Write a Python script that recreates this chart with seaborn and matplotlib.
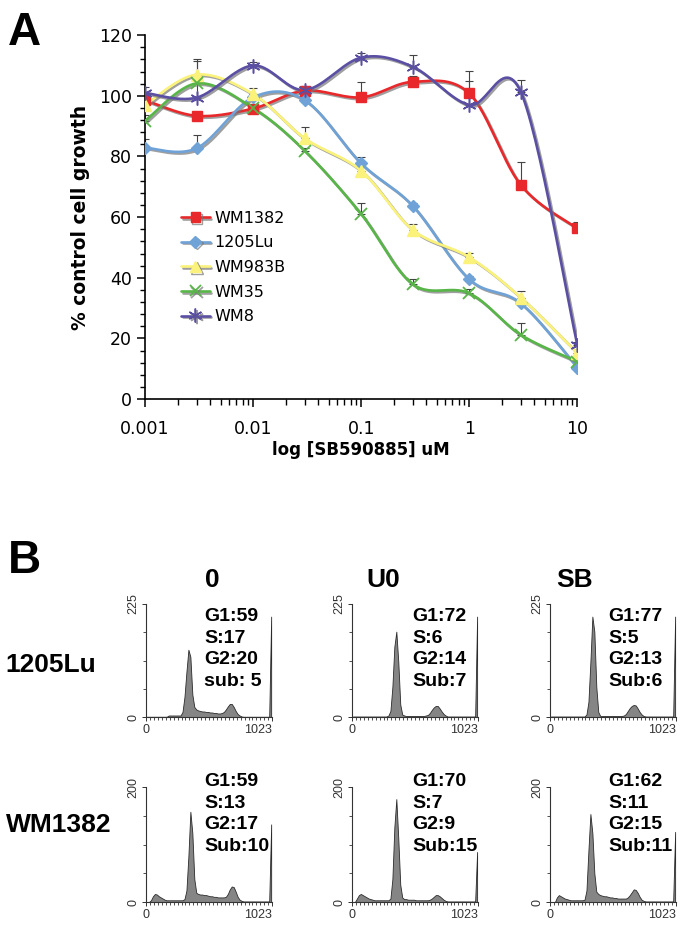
"""Dose response of melanoma lines to SB590885 and cell-cycle profiles."""

import matplotlib.pyplot as plt
import matplotlib.patheffects as pe
import numpy as np
import pandas as pd
import seaborn as sns
from matplotlib.lines import Line2D
from matplotlib.ticker import FixedLocator, LogLocator, MultipleLocator, NullFormatter

# ---- panel A data -------------------------------------------------------
doses = [0.001, 0.003, 0.01, 0.03, 0.1, 0.3, 1, 3, 10]
cell_lines = ["WM1382", "1205Lu", "WM983B", "WM35", "WM8"]

wm1382 = [98.6, 93.4, 95.8, 101.7, 99.5, 104.6, 100.8, 70.6, 56.3]
lu1205 = [82.9, 82.7, 99.5, 98.6, 77.7, 63.7, 39.5, 31.6, 10.4]
wm983b = [97.0, 107.0, 100.6, 86.0, 75.3, 55.8, 46.8, 33.5, 15.2]
wm35 = [91.7, 104.1, 96.0, 81.9, 61.0, 37.9, 34.9, 21.2, 12.4]
wm8 = [101.0, 99.4, 110.0, 101.9, 112.6, 109.6, 97.0, 101.3, 17.9]

wm1382_err = [2.0, 1.0, 1.0, 1.5, 5.0, 2.0, 7.5, 7.5, 2.0]
lu1205_err = [3.0, 4.5, 1.0, 1.0, 2.0, 1.0, 1.0, 1.0, 1.0]
wm983b_err = [2.0, 5.0, 2.0, 3.6, 1.5, 2.0, 1.5, 2.3, 1.0]
wm35_err = [2.0, 1.0, 1.0, 1.0, 3.6, 1.6, 1.3, 3.8, 1.0]
wm8_err = [2.0, 12.0, 1.0, 1.0, 1.5, 4.0, 8.0, 4.0, 1.0]

# ---- panel B data: DNA content histograms, 16-channel bins --------------
conditions = ["0", "U0", "SB"]
hist_lines = ["1205Lu", "WM1382"]
hist_ymax = [225, 200]

lu_ctrl = [0.5] * 11 + [3] * 7 + [10, 40, 90, 134, 120, 45, 20, 15,
           13, 12, 11, 11, 10, 10, 9, 9, 8, 8, 7, 7, 8,
           10, 15, 21, 26, 26, 20, 12, 6, 3, 1] + [0.5] * 14 + [200]
lu_u0 = [1] * 18 + [3, 12, 60, 140, 170, 110, 25, 5,
         3, 2, 2, 2, 2, 2, 2, 2, 2, 2, 2, 3,
         4, 8, 14, 19, 22, 22, 17, 11, 6, 3, 1] + [1] * 14 + [200]
lu_sb = [1] * 18 + [5, 30, 110, 200, 170, 60, 10] + [2] * 12 + [
         3, 6, 12, 18, 22, 24, 23, 17, 10, 5, 2] + [1] * 15 + [200]
wm_ctrl = [0, 0, 3, 10, 14, 13, 10, 8, 6, 4, 3] + [3] * 7 + [
           3, 5, 20, 80, 157, 120, 40, 16,
           14, 13, 13, 12, 12, 11, 10, 10, 9, 9, 8, 8, 8,
           8, 9, 14, 22, 27, 26, 18, 9, 4, 2] + [1] * 14 + [135]
wm_u0 = [0, 0, 6, 12, 14, 12, 10, 8, 6, 5, 4] + [3] * 7 + [
         3, 6, 40, 130, 179, 110, 30, 8,
         5, 5, 4, 4, 4, 4, 3, 3, 3, 3, 3, 3,
         3, 4, 6, 9, 12, 12, 10, 7, 4, 2] + [1] * 15 + [87]
wm_sb = [0, 0, 0, 8, 12, 10, 8, 6, 5, 4] + [3] * 7 + [
         4, 20, 90, 153, 120, 50, 18, 14,
         12, 11, 10, 10, 9, 8, 8, 7, 7, 6, 6, 6, 6,
         6, 8, 12, 17, 22, 21, 16, 9, 4, 2] + [1] * 15 + [122]

phase_text = [
    ["G1:59\nS:17\nG2:20\nsub: 5", "G1:72\nS:6\nG2:14\nSub:7", "G1:77\nS:5\nG2:13\nSub:6"],
    ["G1:59\nS:13\nG2:17\nSub:10", "G1:70\nS:7\nG2:9\nSub:15", "G1:62\nS:11\nG2:15\nSub:11"],
]

series = dict(zip(cell_lines, [wm1382, lu1205, wm983b, wm35, wm8]))
errors = dict(zip(cell_lines, [wm1382_err, lu1205_err, wm983b_err, wm35_err, wm8_err]))
hists = [[lu_ctrl, lu_u0, lu_sb], [wm_ctrl, wm_u0, wm_sb]]

colors = {"WM1382": "#E8282B", "1205Lu": "#6FA2D6", "WM983B": "#FAF27A",
          "WM35": "#58B548", "WM8": "#5A4FA3"}
markers = {"WM1382": ("s", 7, 1.0), "1205Lu": ("D", 6, 1.0), "WM983B": ("^", 8, 1.0),
           "WM35": ("x", 8, 1.3), "WM8": ((6, 2, 0), 10, 1.1)}


def smooth_curve(xs, ys, n=30):
    """Excel-like smoothed line through the points (Bezier in log-x space)."""
    p = np.column_stack([np.log10(xs), np.asarray(ys, float)])
    ext = np.vstack([p[0], p, p[-1]])
    t = np.linspace(0, 1, n)[:, None]
    parts = []
    for i in range(len(p) - 1):
        p0, p1, p2, p3 = ext[i], ext[i + 1], ext[i + 2], ext[i + 3]
        c1 = p1 + (p2 - p0) / 6
        c2 = p2 - (p3 - p1) / 6
        seg = (1 - t) ** 3 * p1 + 3 * (1 - t) ** 2 * t * c1 + 3 * (1 - t) * t ** 2 * c2 + t ** 3 * p2
        parts.append(seg if i == 0 else seg[1:])
    pts = np.vstack(parts)
    return 10 ** pts[:, 0], pts[:, 1]


sns.set_theme(style="ticks")
plt.rcParams["font.family"] = ["DejaVu Sans"]
plt.rcParams["text.color"] = "black"
plt.rcParams["axes.labelcolor"] = "black"

fig = plt.figure(figsize=(6.84, 9.26), dpi=100)
shadow = [pe.SimpleLineShadow(offset=(1.2, -1.2), shadow_color="#777777", alpha=0.7), pe.Normal()]

# ---- panel A -----------------------------------------------------------
ax = fig.add_axes([0.212, 0.569, 0.632, 0.393])
ax.set_xscale("log")
for name in cell_lines:
    ys = series[name]
    ax.errorbar(doses, ys, yerr=[np.zeros(len(ys)), errors[name]], fmt="none",
                ecolor="#444444", elinewidth=0.8, capsize=3, capthick=0.8, zorder=2)
handles = []
for name in cell_lines:
    sx, sy = smooth_curve(doses, series[name])
    ax.plot(sx, sy, color=colors[name], lw=1.9, path_effects=shadow, zorder=3)
    m, ms, mew = markers[name]
    ax.plot(doses, series[name], ls="none", marker=m, ms=ms, mew=mew,
            color=colors[name], mec=colors[name], zorder=4)
    handles.append(Line2D([], [], color=colors[name], lw=1.9, marker=m, ms=ms, mew=mew,
                          mec=colors[name], path_effects=shadow))

ax.set_xlim(0.001, 10)
ax.set_ylim(0, 120)
ax.yaxis.set_major_locator(MultipleLocator(20))
ax.yaxis.set_minor_locator(MultipleLocator(4))
ax.xaxis.set_major_locator(FixedLocator([0.001, 0.01, 0.1, 1, 10]))
ax.xaxis.set_minor_locator(LogLocator(base=10, subs=np.arange(2, 10)))
ax.xaxis.set_minor_formatter(NullFormatter())
ax.set_xticklabels(["0.001", "0.01", "0.1", "1", "10"])
ax.tick_params(axis="both", which="major", direction="out", length=6, width=1.1,
               labelsize=12.5, color="black", labelcolor="black")
ax.tick_params(axis="both", which="minor", direction="out", length=3.5, width=1.0, color="black")
ax.tick_params(axis="x", which="major", pad=9)
ax.tick_params(axis="x", which="minor", length=4.5)
for side in ("top", "right"):
    ax.spines[side].set_visible(False)
for side in ("left", "bottom"):
    ax.spines[side].set_linewidth(1.2)
    ax.spines[side].set_color("black")
ax.set_ylabel("% control cell growth", fontsize=13.5, fontweight="bold", labelpad=6)
ax.set_xlabel("log [SB590885] uM", fontsize=12, fontweight="bold", labelpad=2)
ax.legend(handles, cell_lines, loc="upper left", bbox_to_anchor=(0.05, 0.557), frameon=False,
          fontsize=11.5, handlelength=1.8, handletextpad=0.3, labelspacing=0.6)

fig.text(0.012, 0.988, "A", fontsize=33, fontweight="bold", va="top", family="Liberation Sans")
fig.text(0.012, 0.418, "B", fontsize=33, fontweight="bold", va="top", family="Liberation Sans")

# ---- panel B -----------------------------------------------------------
channels = np.arange(8, 1024, 16)
col_left = [0.2135, 0.5146, 0.8041]
row_bottom = [0.2257, 0.0259]
row_height = [0.122, 0.1242]
title_x = [0.311, 0.560, 0.840]
label_y = [0.282, 0.109]
text_x = [0.46, 0.48, 0.46]
text_y = [0.965, 1.12]

for c, cond in enumerate(conditions):
    fig.text(title_x[c], 0.374, cond, fontsize=19, fontweight="bold", ha="center",
             va="center", family="Liberation Sans")
for r, line in enumerate(hist_lines):
    fig.text(0.008, label_y[r], line, fontsize=19, fontweight="bold", ha="left",
             va="center", family="Liberation Sans")
    ymax = hist_ymax[r]
    for c in range(3):
        hx = fig.add_axes([col_left[c], row_bottom[r], 0.1842, row_height[r]])
        df = pd.DataFrame({"channel": channels, "count": hists[r][c]})
        sns.histplot(data=df, x="channel", weights="count", binwidth=16, binrange=(0, 1024),
                     element="poly", fill=True, color="#858585", edgecolor="#2b2b2b",
                     linewidth=0.6, alpha=1, ax=hx)
        hx.set_xlim(0, 1023)
        hx.set_ylim(0, ymax)
        hx.set_xlabel("")
        hx.set_ylabel("")
        hx.xaxis.set_major_locator(FixedLocator([0, 1023]))
        hx.xaxis.set_minor_locator(MultipleLocator(32))
        hx.yaxis.set_major_locator(FixedLocator([0, ymax]))
        hx.yaxis.set_minor_locator(FixedLocator([ymax / 4, ymax / 2, 3 * ymax / 4]))
        hx.set_xticklabels(["0", "1023"])
        hx.get_xticklabels()[1].set_horizontalalignment("right")
        hx.set_yticklabels(["0", str(ymax)], rotation=90, va="center")
        hx.tick_params(axis="both", which="major", direction="out", length=3, width=0.7,
                       labelsize=9, color="#333333", labelcolor="#333333", pad=2)
        hx.tick_params(axis="both", which="minor", direction="out", length=2, width=0.6,
                       color="#333333")
        for lab in hx.get_xticklabels() + hx.get_yticklabels():
            lab.set_family("Liberation Sans")
        for side in ("top", "right"):
            hx.spines[side].set_visible(False)
        for side in ("left", "bottom"):
            hx.spines[side].set_linewidth(0.8)
            hx.spines[side].set_color("#333333")
        hx.set_facecolor("white")
        hx.text(text_x[c], text_y[r], phase_text[r][c], transform=hx.transAxes, ha="left",
                va="top", fontsize=14, fontweight="bold", linespacing=1.35,
                family="Liberation Sans", color="black")

fig.savefig("out.png", dpi=100)
